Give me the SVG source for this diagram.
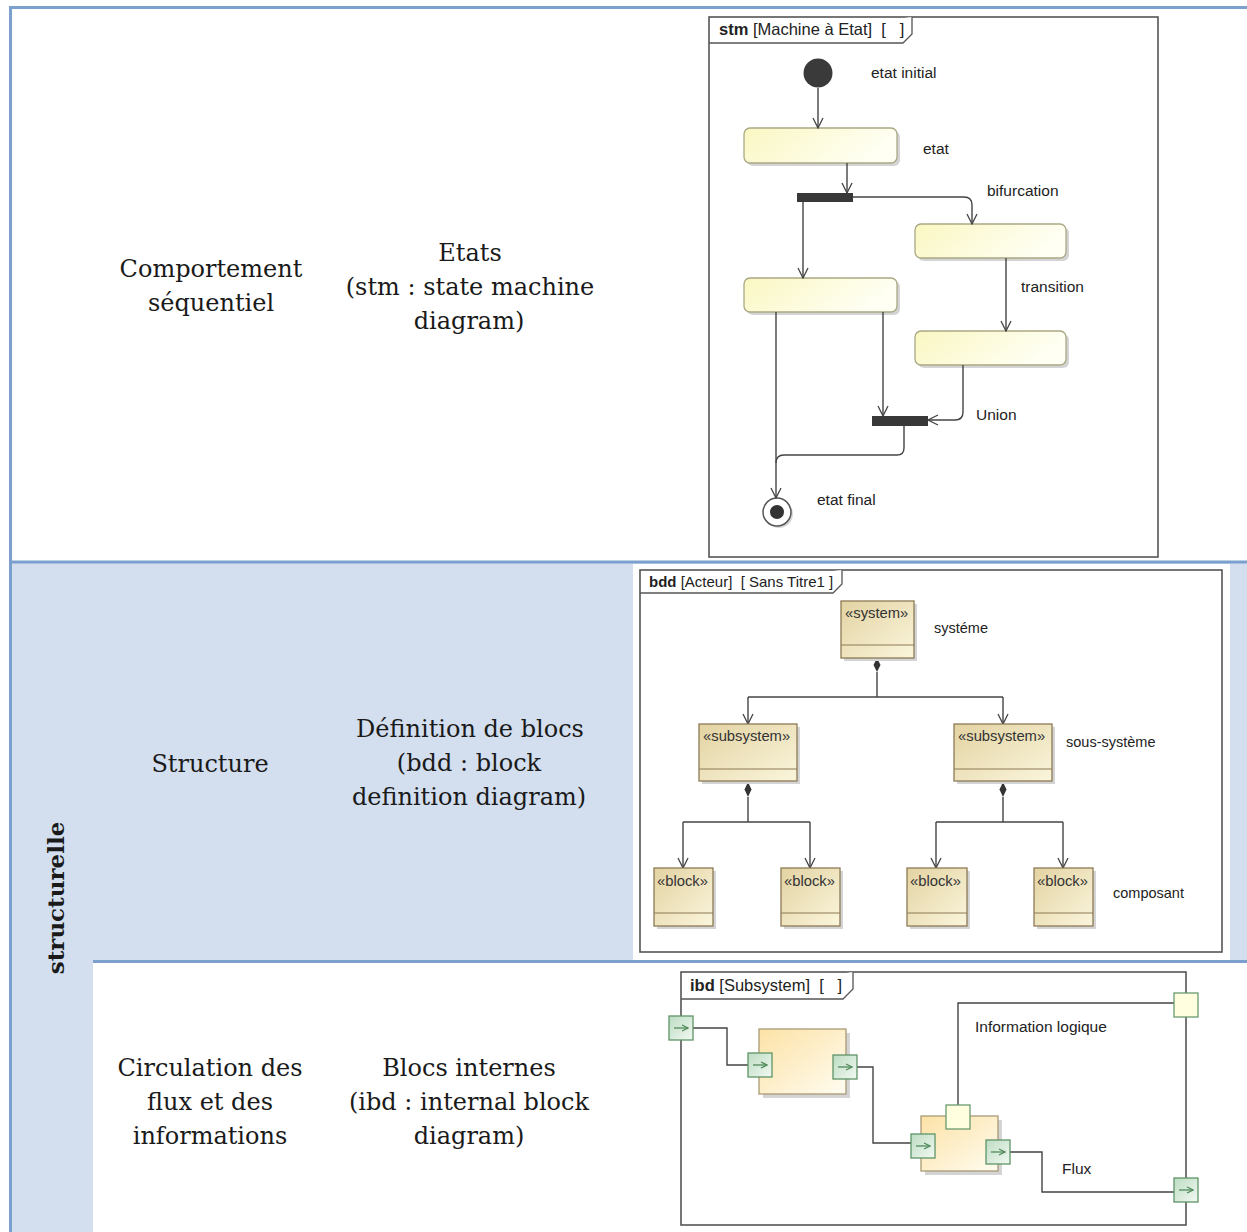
<svg xmlns="http://www.w3.org/2000/svg" width="1247" height="1232" viewBox="0 0 1247 1232">
<style>
.cell{font-family:"DejaVu Serif","Liberation Serif",serif;font-size:24px;fill:#1a1a1a;text-anchor:middle}
.lbl{font-family:"Liberation Sans",Arial,sans-serif;font-size:15.5px;fill:#222}
.lbs{font-family:"Liberation Sans",Arial,sans-serif;font-size:14.5px;fill:#222}
.hdr{font-family:"Liberation Sans",Arial,sans-serif;font-size:16.5px;fill:#222;white-space:pre}
.ster{font-family:"Liberation Sans",Arial,sans-serif;font-size:14.8px;fill:#333}
.frame{fill:none;stroke:#555;stroke-width:1.6}
.tab{fill:#fff;stroke:#555;stroke-width:1.3}
.state{fill:url(#stateGrad);stroke:#aaa884;stroke-width:1.3}
.shadow{fill:#d4d4d4}
.block{fill:url(#blockGrad);stroke:#8d7a55;stroke-width:1.3}
.part{fill:url(#partGrad);stroke:#a99a77;stroke-width:1.3}
.bar{fill:#383838}
.conn{fill:none;stroke:#444;stroke-width:1.4}
.arr{marker-end:url(#open)}
.tline{stroke:#7ba0cd;stroke-width:3}
</style>
<defs>
<linearGradient id="stateGrad" x1="0" y1="0" x2="1" y2="0.3">
<stop offset="0" stop-color="#faf7c2"/><stop offset="1" stop-color="#fffff4"/>
</linearGradient>
<linearGradient id="blockGrad" x1="0" y1="0" x2="1" y2="1">
<stop offset="0" stop-color="#e3d3a2"/><stop offset="1" stop-color="#faf5dc"/>
</linearGradient>
<linearGradient id="partGrad" x1="0" y1="0" x2="1" y2="1">
<stop offset="0" stop-color="#fce2a6"/><stop offset="1" stop-color="#fffcf0"/>
</linearGradient>
<linearGradient id="portGrad" x1="0" y1="0" x2="1" y2="1">
<stop offset="0" stop-color="#bcdcc2"/><stop offset="1" stop-color="#f2f9f2"/>
</linearGradient>
<marker id="open" viewBox="0 0 12 12" refX="11" refY="6" markerWidth="12" markerHeight="12" markerUnits="userSpaceOnUse" orient="auto">
<path d="M1,1 L11,6 L1,11" fill="none" stroke="#444" stroke-width="1.3"/>
</marker>
<marker id="pa" viewBox="0 0 8 8" refX="7" refY="4" markerWidth="8" markerHeight="8" markerUnits="userSpaceOnUse" orient="auto">
<path d="M1,1 L7,4 L1,7" fill="none" stroke="#4f8a5a" stroke-width="1.2"/>
</marker>
<g id="gport">
<rect x="0" y="0" width="24" height="24" fill="url(#portGrad)" stroke="#5f9468" stroke-width="1.3"/>
<path d="M5,12 H19" stroke="#4f8a5a" stroke-width="1.3" marker-end="url(#pa)"/>
</g>
<g id="yport">
<rect x="0" y="0" width="24" height="24" fill="#ffffe0" stroke="#6a9a70" stroke-width="1.3"/>
</g>
</defs>

<rect x="0" y="0" width="1247" height="1232" fill="#fff"/>
<g id="table">
<rect x="11" y="563" width="1236" height="398" fill="#d3dfee"/>
<rect x="11" y="961" width="82" height="271" fill="#d3dfee"/>
<rect x="633" y="564" width="597" height="396" fill="#fff"/>
<line class="tline" x1="9" y1="7.5" x2="1247" y2="7.5"/>
<line class="tline" x1="10.5" y1="6" x2="10.5" y2="1232"/>
<line class="tline" x1="9" y1="562" x2="1247" y2="562"/>
<line class="tline" x1="93" y1="961.5" x2="1247" y2="961.5"/>
</g>

<g id="cells">
<text class="cell" x="211" y="277">Comportement</text>
<text class="cell" x="211" y="311">séquentiel</text>
<text class="cell" x="470" y="261">Etats</text>
<text class="cell" x="470" y="295">(stm : state machine</text>
<text class="cell" x="469" y="329">diagram)</text>
<text class="cell" x="210" y="772">Structure</text>
<text class="cell" x="470" y="737">Définition de blocs</text>
<text class="cell" x="469" y="771">(bdd : block</text>
<text class="cell" x="469" y="805">definition diagram)</text>
<text class="cell" x="210" y="1076">Circulation des</text>
<text class="cell" x="210" y="1110">flux et des</text>
<text class="cell" x="210" y="1144">informations</text>
<text class="cell" x="469" y="1076">Blocs internes</text>
<text class="cell" x="469" y="1110">(ibd : internal block</text>
<text class="cell" x="469" y="1144">diagram)</text>
<text class="cell" transform="translate(64,898) rotate(-90)" style="font-weight:bold;font-size:23px">structurelle</text>
</g>

<g id="stm-frame">
<rect class="frame" x="709" y="17" width="449" height="540" fill="#fff"/>
<path class="tab" d="M709,43 H903 L912,34 V17"/>
<text class="hdr" x="719" y="35"><tspan font-weight="bold">stm</tspan> [Machine à Etat]  [   ]</text>
</g>
<g id="stm-initial">
<circle cx="818" cy="73" r="14.5" fill="#3a3a3a"/>
<text class="lbl" x="871" y="78">etat initial</text>
</g>
<g id="stm-etat">
<rect class="shadow" x="747" y="131" width="153" height="35" rx="6"/>
<rect class="state" x="744" y="128" width="153" height="35" rx="6"/>
<text class="lbl" x="923" y="154">etat</text>
</g>
<g id="stm-fork">
<rect class="bar" x="797" y="193" width="56" height="9"/>
<text class="lbl" x="987" y="196">bifurcation</text>
</g>
<g id="stm-state-right1">
<rect class="shadow" x="918" y="227" width="151" height="34" rx="6"/>
<rect class="state" x="915" y="224" width="151" height="34" rx="6"/>
<text class="lbl" x="1021" y="292">transition</text>
</g>
<g id="stm-state-right2">
<rect class="shadow" x="918" y="334" width="151" height="34" rx="6"/>
<rect class="state" x="915" y="331" width="151" height="34" rx="6"/>
</g>
<g id="stm-state-left">
<rect class="shadow" x="747" y="281" width="153" height="34" rx="6"/>
<rect class="state" x="744" y="278" width="153" height="34" rx="6"/>
</g>
<g id="stm-join">
<rect class="bar" x="872" y="416" width="56" height="10"/>
<text class="lbl" x="976" y="420">Union</text>
</g>
<g id="stm-final">
<circle cx="779" cy="514" r="14" fill="#d8d8d8"/>
<circle cx="777" cy="512" r="14" fill="#fff" stroke="#555" stroke-width="1.5"/>
<circle cx="777" cy="512" r="7" fill="#333"/>
<text class="lbl" x="817" y="505">etat final</text>
</g>

<g id="connectors">
<path class="conn arr" d="M818,88 V128"/>
<path class="conn arr" d="M847,163 V193"/>
<path class="conn arr" d="M853,197 H964 Q972,197 972,205 V224"/>
<path class="conn arr" d="M803,202 V278"/>
<path class="conn arr" d="M1006,258 V331"/>
<path class="conn arr" d="M963,365 V412 Q963,420 955,420 H928"/>
<path class="conn arr" d="M883,312 V416"/>
<path class="conn arr" d="M776,312 V498"/>
<path class="conn" d="M904,426 V448 Q904,455 897,455 H784 Q776,455 776,463"/>
<path class="conn" d="M877,672 V697 M748,697 H1003"/>
<path class="conn arr" d="M748,697 V724"/>
<path class="conn arr" d="M1003,697 V724"/>
<path class="conn" d="M748,797 V822 M683,822 H810"/>
<path class="conn arr" d="M683,822 V868"/>
<path class="conn arr" d="M810,822 V868"/>
<path class="conn" d="M1003,797 V822 M936,822 H1063"/>
<path class="conn arr" d="M936,822 V868"/>
<path class="conn arr" d="M1063,822 V868"/>
<polygon points="877,658 880.5,665 877,672 873.5,665" fill="#333"/>
<polygon points="748,782 751.5,789.5 748,797 744.5,789.5" fill="#333"/>
<polygon points="1003,782 1006.5,789.5 1003,797 999.5,789.5" fill="#333"/>
<path class="conn" d="M693,1028 H727 V1065 H748"/>
<path class="conn" d="M857,1067 H873 V1143 H911"/>
<path class="conn" d="M958,1105 V1003 H1174"/>
<path class="conn" d="M1009,1152 H1042 V1192 H1174"/>
</g>

<g id="bdd-frame">
<rect class="frame" x="640" y="570" width="582" height="382"/>
<path class="tab" d="M640,593 H833 L842,584 V570"/>
<text class="hdr" x="649" y="587" style="font-size:15px"><tspan font-weight="bold">bdd</tspan> [Acteur]  [ Sans Titre1 ]</text>
</g>
<g id="bdd-system">
<rect class="shadow" x="844" y="604" width="73" height="57"/>
<rect class="block" x="841" y="601" width="73" height="57"/>
<line x1="841" y1="645" x2="914" y2="645" stroke="#8d7a55" stroke-width="1.2"/>
<text class="ster" x="845" y="618">«system»</text>
<text class="lbs" x="934" y="633">systéme</text>
</g>
<g id="bdd-subsystem-left">
<rect class="shadow" x="702" y="727" width="98" height="57"/>
<rect class="block" x="699" y="724" width="98" height="57"/>
<line x1="699" y1="769" x2="797" y2="769" stroke="#8d7a55" stroke-width="1.2"/>
<text class="ster" x="703" y="741">«subsystem»</text>
</g>
<g id="bdd-subsystem-right">
<rect class="shadow" x="957" y="727" width="98" height="57"/>
<rect class="block" x="954" y="724" width="98" height="57"/>
<line x1="954" y1="769" x2="1052" y2="769" stroke="#8d7a55" stroke-width="1.2"/>
<text class="ster" x="958" y="741">«subsystem»</text>
<text class="lbs" x="1066" y="747">sous-système</text>
</g>
<g id="bdd-block1">
<rect class="shadow" x="657" y="871" width="59" height="58"/>
<rect class="block" x="654" y="868" width="59" height="58"/>
<line x1="654" y1="913" x2="713" y2="913" stroke="#8d7a55" stroke-width="1.2"/>
<text class="ster" x="657" y="886">«block»</text>
</g>
<g id="bdd-block2">
<rect class="shadow" x="784" y="871" width="59" height="58"/>
<rect class="block" x="781" y="868" width="59" height="58"/>
<line x1="781" y1="913" x2="840" y2="913" stroke="#8d7a55" stroke-width="1.2"/>
<text class="ster" x="784" y="886">«block»</text>
</g>
<g id="bdd-block3">
<rect class="shadow" x="910" y="871" width="60" height="58"/>
<rect class="block" x="907" y="868" width="60" height="58"/>
<line x1="907" y1="913" x2="967" y2="913" stroke="#8d7a55" stroke-width="1.2"/>
<text class="ster" x="910" y="886">«block»</text>
</g>
<g id="bdd-block4">
<rect class="shadow" x="1037" y="871" width="59" height="58"/>
<rect class="block" x="1034" y="868" width="59" height="58"/>
<line x1="1034" y1="913" x2="1093" y2="913" stroke="#8d7a55" stroke-width="1.2"/>
<text class="ster" x="1037" y="886">«block»</text>
<text class="lbs" x="1113" y="898">composant</text>
</g>

<g id="ibd-frame">
<rect class="frame" x="681" y="972" width="505" height="253"/>
<path class="tab" d="M681,999 H843 L853,989 V972"/>
<text class="hdr" x="690" y="991"><tspan font-weight="bold">ibd</tspan> [Subsystem]  [   ]</text>
</g>
<g id="ibd-port-in">
<use href="#gport" x="669" y="1016"/>
</g>
<g id="ibd-part1">
<rect class="shadow" x="763" y="1033" width="87" height="65"/>
<rect class="part" x="759" y="1029" width="87" height="65"/>
<use href="#gport" x="748" y="1053"/>
<use href="#gport" x="833" y="1055"/>
</g>
<g id="ibd-part2">
<rect class="shadow" x="925" y="1120" width="77" height="55"/>
<rect class="part" x="921" y="1116" width="77" height="55"/>
<use href="#yport" x="946" y="1105"/>
<use href="#gport" x="911" y="1134"/>
<use href="#gport" x="986" y="1140"/>
</g>
<g id="ibd-port-info">
<use href="#yport" x="1174" y="993"/>
<text class="lbl" x="975" y="1032">Information logique</text>
</g>
<g id="ibd-port-flux">
<use href="#gport" x="1174" y="1178"/>
<text class="lbl" x="1062" y="1174">Flux</text>
</g>
</svg>
